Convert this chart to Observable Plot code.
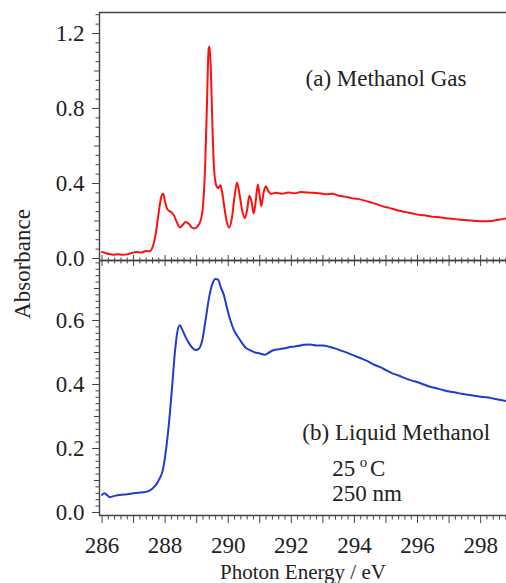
<!DOCTYPE html>
<html><head><meta charset="utf-8">
<script src="https://cdn.jsdelivr.net/npm/d3@7"></script>
<script src="https://cdn.jsdelivr.net/npm/@observablehq/plot@0.6"></script>
<style>
body{margin:0;background:#fff;}
#chart{position:relative;width:506px;height:583px;overflow:hidden;font-family:"Liberation Serif","DejaVu Serif",serif;}
#chart svg{position:absolute;left:0;overflow:visible;}
#ylab{position:absolute;left:23px;top:264px;transform:translate(-50%,-50%) rotate(-90deg);font-size:23px;color:#222;white-space:nowrap;}
</style></head><body><div id="chart"><div id="ylab">Absorbance</div></div>
<script>
// ---- data ----
const gasEnergy = [286.00,286.10,286.20,286.35,286.50,286.65,286.80,286.95,287.10,287.25,287.40,287.50,287.60,287.70,287.80,287.88,287.94,288.00,288.08,288.17,288.28,288.38,288.47,288.56,288.65,288.75,288.85,288.92,289.02,289.12,289.20,289.27,289.33,289.38,289.41,289.45,289.50,289.55,289.62,289.68,289.75,289.80,289.88,289.96,290.03,290.12,290.20,290.28,290.36,290.45,290.53,290.60,290.67,290.73,290.81,290.88,290.94,291.00,291.05,291.12,291.19,291.27,291.35,291.50,291.70,291.90,292.10,292.30,292.50,292.70,292.90,293.10,293.30,293.50,293.70,293.90,294.10,294.30,294.50,294.70,294.90,295.10,295.30,295.50,295.70,295.90,296.10,296.30,296.50,296.70,296.90,297.10,297.30,297.50,297.70,297.90,298.10,298.30,298.50,298.70,298.85];
const gasAbs = [0.035,0.030,0.025,0.020,0.022,0.020,0.022,0.030,0.035,0.032,0.040,0.038,0.060,0.130,0.250,0.330,0.345,0.300,0.260,0.250,0.230,0.190,0.165,0.180,0.195,0.185,0.165,0.160,0.170,0.200,0.280,0.500,0.850,1.120,1.130,1.000,0.700,0.480,0.390,0.375,0.390,0.360,0.270,0.190,0.165,0.220,0.330,0.405,0.340,0.250,0.215,0.260,0.335,0.310,0.240,0.320,0.395,0.330,0.280,0.350,0.385,0.360,0.345,0.350,0.345,0.352,0.348,0.355,0.352,0.350,0.348,0.342,0.345,0.335,0.330,0.322,0.318,0.310,0.300,0.290,0.278,0.270,0.260,0.252,0.245,0.238,0.232,0.228,0.222,0.220,0.215,0.212,0.208,0.205,0.202,0.200,0.198,0.200,0.205,0.210,0.215];

const liqEnergy = [286.00,286.08,286.15,286.25,286.40,286.55,286.70,286.85,287.00,287.15,287.30,287.45,287.60,287.72,287.82,287.92,288.00,288.07,288.15,288.22,288.30,288.38,288.46,288.55,288.65,288.75,288.86,288.97,289.07,289.18,289.28,289.39,289.50,289.60,289.68,289.76,289.86,289.96,290.07,290.18,290.28,290.40,290.55,290.70,290.85,291.00,291.15,291.30,291.45,291.60,291.80,292.00,292.20,292.40,292.60,292.80,293.00,293.20,293.40,293.60,293.80,294.00,294.20,294.40,294.60,294.80,295.00,295.20,295.40,295.60,295.80,296.00,296.20,296.40,296.60,296.80,297.00,297.20,297.40,297.60,297.80,298.00,298.20,298.40,298.60,298.85];
const liqAbs = [0.055,0.060,0.055,0.048,0.052,0.055,0.056,0.058,0.060,0.062,0.063,0.066,0.075,0.088,0.105,0.130,0.175,0.230,0.310,0.390,0.490,0.560,0.585,0.570,0.548,0.530,0.515,0.508,0.512,0.540,0.600,0.670,0.715,0.730,0.728,0.705,0.680,0.640,0.600,0.570,0.553,0.535,0.515,0.507,0.500,0.497,0.493,0.500,0.508,0.510,0.513,0.518,0.520,0.524,0.525,0.522,0.522,0.518,0.512,0.505,0.498,0.490,0.482,0.474,0.463,0.455,0.445,0.435,0.428,0.420,0.413,0.407,0.400,0.393,0.388,0.383,0.378,0.375,0.371,0.368,0.365,0.362,0.360,0.356,0.352,0.348];

const xTickLabels = [286, 288, 290, 292, 294, 296, 298];
const yTickLabelsTop = [0.0, 0.4, 0.8, 1.2];
const yTickLabelsBottom = [0.0, 0.2, 0.4, 0.6];
const gasLabels = [{text: "(a) Methanol Gas", e: 292.45, a: 0.96}];
const liqLabels = [
  {text: "(b) Liquid Methanol", e: 292.35, a: 0.251},
  {text: "25", e: 293.30, a: 0.1375},
  {text: "C", e: 294.49, a: 0.1375},
  {text: "250 nm", e: 293.30, a: 0.059}
];
const liqSuper = [{text: "o", e: 294.17, a: 0.158}];
const xTitle = "Photon Energy / eV";

// ---- helpers ----
const FONT = '"Liberation Serif","DejaVu Serif",serif';
const INK = "#222";
const AX = "#444";
const xDomain = [285.92, 298.82];
const r1 = v => Math.round(v * 1000) / 1000;
const xMinor = d3.range(0, 65).map(i => r1(286 + i * 0.2)).filter(v => v <= 298.8 && Math.abs(v - Math.round(v)) > 1e-6);
const xInt = d3.range(286, 299);
const yTopMinor = d3.range(0, 27).map(i => r1(i * 0.05)).filter(v => Math.abs(v / 0.2 - Math.round(v / 0.2)) > 1e-6);
const yTopMid = [0.2, 0.6, 1.0];
const yBotMinor = d3.range(0, 40).map(i => r1(i * 0.02)).filter(v => Math.abs(v / 0.1 - Math.round(v / 0.1)) > 1e-6);
const yBotMid = [0.1, 0.3, 0.5, 0.7];
const gasData = gasEnergy.map((e, i) => ({e, a: gasAbs[i]}));
const liqData = liqEnergy.map((e, i) => ({e, a: liqAbs[i]}));
const fmt = d3.format(".1f");
const style = {fontFamily: FONT, fontSize: "23px", color: INK, background: "transparent", overflow: "visible"};

const topYDomain = [-0.0107, 1.312];
const topPlot = Plot.plot({
  width: 506, height: 260, marginTop: 12, marginBottom: 0, marginLeft: 99, marginRight: 0,
  style,
  x: {domain: xDomain, label: null},
  y: {domain: topYDomain, label: null},
  marks: [
    Plot.line(gasData, {x: "e", y: "a", stroke: "#ff1010", strokeWidth: 2, curve: "monotone-x", clip: true}),
    Plot.axisY({ticks: yTopMinor, tickSize: 3.5, tickFormat: () => "", stroke: AX, label: null}),
    Plot.axisY({ticks: yTopMid, tickSize: 5, tickFormat: () => "", stroke: AX, label: null}),
    Plot.axisY({ticks: yTickLabelsTop, tickSize: 7, tickPadding: 8, tickFormat: fmt, stroke: AX, fill: INK, label: null}),
    Plot.axisX({ticks: xMinor, anchor: "bottom", tickSize: 3.5, tickFormat: () => "", stroke: AX, label: null}),
    Plot.axisX({ticks: xInt, anchor: "bottom", tickSize: 6, tickFormat: () => "", stroke: AX, label: null}),
    Plot.ruleX([xDomain[0]], {stroke: AX, strokeWidth: 1.4}),
    Plot.ruleY([topYDomain[1]], {stroke: AX, strokeWidth: 1.4}),
    Plot.ruleY([topYDomain[0]], {stroke: AX, strokeWidth: 1.4}),
    Plot.text(gasLabels, {x: "e", y: "a", text: "text", textAnchor: "start", lineAnchor: "middle", fontSize: 23, fill: INK})
  ]
});
topPlot.style.top = "0px";

const botYDomain = [-0.0094, 0.7875];
const botPlot = Plot.plot({
  width: 506, height: 323, marginTop: 0, marginBottom: 68, marginLeft: 99, marginRight: 0,
  style,
  x: {domain: xDomain, label: null},
  y: {domain: botYDomain, label: null},
  marks: [
    Plot.line(liqData, {x: "e", y: "a", stroke: "#1d3fcc", strokeWidth: 2, curve: "monotone-x", clip: true}),
    Plot.axisY({ticks: yBotMinor, tickSize: 3.5, tickFormat: () => "", stroke: AX, label: null}),
    Plot.axisY({ticks: yBotMid, tickSize: 5, tickFormat: () => "", stroke: AX, label: null}),
    Plot.axisY({ticks: yTickLabelsBottom, tickSize: 7, tickPadding: 8, tickFormat: fmt, stroke: AX, fill: INK, label: null}),
    Plot.axisX({ticks: xMinor, anchor: "top", tickSize: 3.5, tickFormat: () => "", stroke: AX, label: null}),
    Plot.axisX({ticks: xInt, anchor: "top", tickSize: 6, tickFormat: () => "", stroke: AX, label: null}),
    Plot.axisX({ticks: xMinor, anchor: "bottom", tickSize: 4.5, tickFormat: () => "", stroke: AX, label: null}),
    Plot.axisX({ticks: xInt.filter(v => !xTickLabels.includes(v)), anchor: "bottom", tickSize: 8, tickFormat: () => "", stroke: AX, label: null}),
    Plot.axisX({ticks: xTickLabels, anchor: "bottom", tickSize: 8, tickPadding: 13, tickFormat: d => String(d), stroke: AX, fill: INK, label: null}),
    Plot.ruleX([xDomain[0]], {stroke: AX, strokeWidth: 1.4}),
    Plot.ruleY([botYDomain[0]], {stroke: AX, strokeWidth: 1.4}),
    Plot.ruleY([botYDomain[1]], {stroke: AX, strokeWidth: 1.4}),
    Plot.text(liqLabels, {x: "e", y: "a", text: "text", textAnchor: "start", lineAnchor: "middle", fontSize: 23, fill: INK}),
    Plot.text(liqSuper, {x: "e", y: "a", text: "text", textAnchor: "start", lineAnchor: "middle", fontSize: 15, fill: INK}),
    Plot.text([xTitle], {frameAnchor: "bottom", dy: 57, text: d => d, lineAnchor: "middle", fontSize: 21, fill: INK})
  ]
});
botPlot.style.top = "260px";

const chart = document.getElementById("chart");
chart.appendChild(topPlot);
chart.appendChild(botPlot);
</script>
</body></html>
